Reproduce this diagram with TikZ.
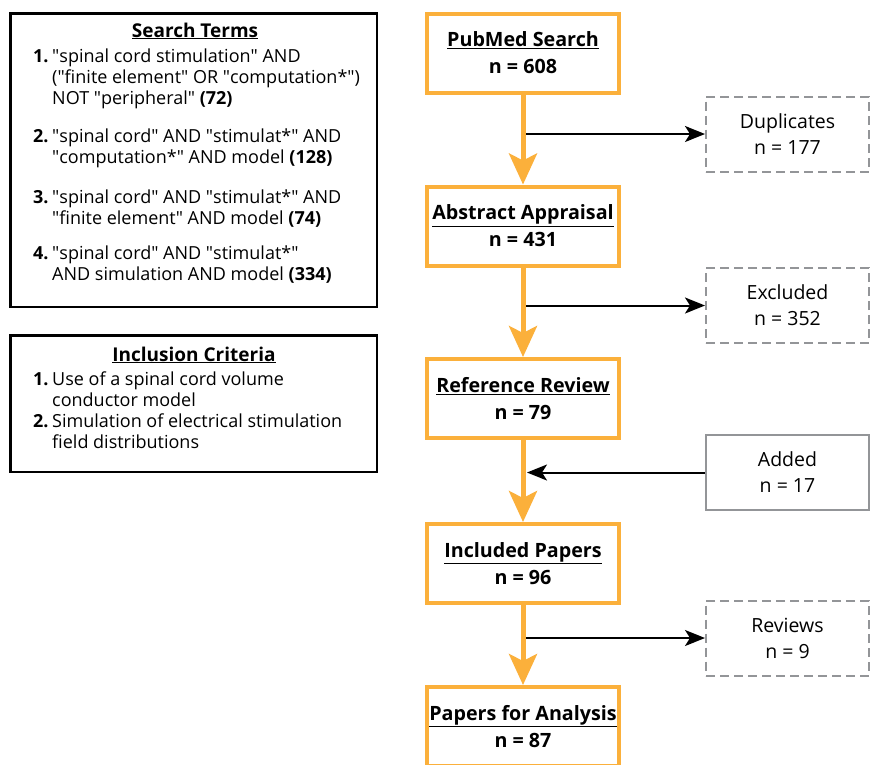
\documentclass[tikz,border=0pt]{standalone}
\usepackage{fontspec}
\setmainfont{Open Sans}
\usetikzlibrary{arrows.meta}
\definecolor{orng}{HTML}{FBB03B}
\definecolor{gry}{HTML}{939598}
\newcommand\itemnum[1]{\makebox[19pt][l]{\textbf{#1}}}
\newcommand\qt[1]{\textquotedbl#1\textquotedbl}
\begin{document}
\begin{tikzpicture}[x=1pt,y=-1pt,
 obox/.style={draw=orng, line width=4pt, minimum width=192pt, minimum height=79pt, inner sep=0pt, align=center, fill=white, font=\fontsize{19.7}{27}\selectfont\bfseries},
 gbox/.style={draw=gry, line width=2pt, minimum width=163pt, minimum height=75pt, inner sep=0pt, align=center, fill=white, font=\fontsize{19.5}{26}\selectfont},
 dbox/.style={gbox, dash pattern=on 9pt off 5pt},
 lbox/.style={draw=black, line width=2.5pt, inner sep=0pt},
 ttl/.style={font=\fontsize{19}{22}\selectfont\bfseries, anchor=base, inner sep=0pt},
 itm/.style={font=\fontsize{18}{21}\selectfont, anchor=base west, inner sep=0pt},
 oarr/.style={draw=orng, line width=5pt, -{Stealth[length=31pt,width=28pt,inset=7pt]}},
 barr/.style={draw=black, line width=2pt, -{Stealth[length=20pt,width=16pt,inset=5pt]}},
]
\fill[white] (0,0) rectangle (874,764);
\useasboundingbox (0,0) rectangle (874,764);
\clip (0,0) rectangle (874,764);

% left boxes
\node[lbox, minimum width=366.5pt, minimum height=293.5pt] (stbox) at (193.5,160) {};
\node[lbox, minimum width=366.5pt, minimum height=136.5pt] (icbox) at (193.5,403.5) {};
\node[ttl] (sttl) at (195,37) {\underline{Search Terms}};
\node[itm] (s1) at (33,62) {\begin{tabular}[t]{@{}l@{}l@{}}\itemnum{1.}&\qt{spinal cord stimulation} AND\\&(\qt{finite element} OR \qt{computation*})\\&NOT \qt{peripheral} \textbf{(72)}\end{tabular}};
\node[itm] (s2) at (33,142) {\begin{tabular}[t]{@{}l@{}l@{}}\itemnum{2.}&\qt{spinal cord} AND \qt{stimulat*} AND\\&\qt{computation*} AND model \textbf{(128)}\end{tabular}};
\node[itm] (s3) at (33,203) {\begin{tabular}[t]{@{}l@{}l@{}}\itemnum{3.}&\qt{spinal cord} AND \qt{stimulat*} AND\\&\qt{finite element} AND model \textbf{(74)}\end{tabular}};
\node[itm] (s4) at (33,259) {\begin{tabular}[t]{@{}l@{}l@{}}\itemnum{4.}&\qt{spinal cord} AND \qt{stimulat*}\\&AND simulation AND model \textbf{(334)}\end{tabular}};
\node[ttl] (icttl) at (194,361) {\underline{Inclusion Criteria}};
\node[itm] (c1) at (33,385) {\begin{tabular}[t]{@{}l@{}l@{}}\itemnum{1.}&Use of a spinal cord volume\\&conductor model\\\itemnum{2.}&Simulation of electrical stimulation\\&field distributions\end{tabular}};

% main flow
\node[obox] (pub) at (523,53) {\underline{PubMed Search}\\n = 608};
\node[obox] (abs) at (523,226) {\underline{Abstract Appraisal}\\n = 431};
\node[obox] (ref) at (523,398.5) {\underline{Reference Review}\\n = 79};
\node[obox] (inc) at (523,563.5) {\underline{Included Papers}\\n = 96};
\node[obox] (pap) at (523,726.5) {\underline{Papers for Analysis}\\n = 87};

% side boxes
\node[dbox] (dup) at (787.5,134) {Duplicates\\n = 177};
\node[dbox] (exc) at (787.5,305.5) {Excluded\\n = 352};
\node[gbox] (add) at (787.5,472.5) {Added\\n = 17};
\node[dbox] (rev) at (787.5,638) {Reviews\\n = 9};

\coordinate (j1) at (525,134);
\coordinate (j2) at (525,305.5);
\coordinate (j3) at (527,472.5);
\coordinate (j4) at (525,638);

\draw[barr] (j1) -- (dup);
\draw[barr] (j2) -- (exc);
\draw[barr] (add) -- (j3);
\draw[barr] (j4) -- (rev);

\draw[oarr] (pub) -- (abs);
\draw[oarr] (abs) -- (ref);
\draw[oarr] (ref) -- (inc);
\draw[oarr] (inc) -- (pap);
\end{tikzpicture}
\end{document}
